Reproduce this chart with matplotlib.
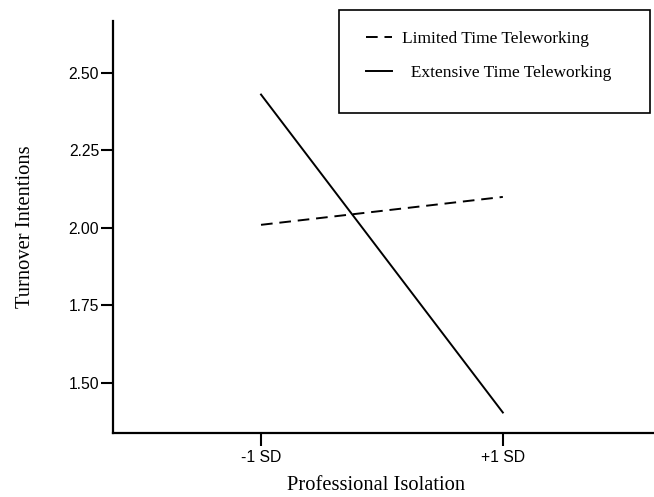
import matplotlib.pyplot as plt
from matplotlib.patches import Rectangle

# datos
niveles = ['-1 SD', '+1 SD']
pos_x = [1, 2]
limitado = [2.01, 2.10]
extensivo = [2.43, 1.405]
ticks_y = [1.50, 1.75, 2.00, 2.25, 2.50]

fig = plt.figure(figsize=(6.54, 4.97), dpi=100)
ax = fig.add_axes([0.1728, 0.1288, 0.8272, 0.8289])

ax.plot(pos_x, limitado, color='black', linewidth=1.4, linestyle=(0, (6, 3.5)),
        label='Limited Time Teleworking')
ax.plot(pos_x, extensivo, color='black', linewidth=1.4,
        label='  Extensive Time Teleworking')

ax.set_xlim(0.388, 2.625)
ax.set_ylim(1.339, 2.667)
ax.set_xticks(pos_x)
ax.set_xticklabels(niveles, fontfamily='Liberation Sans', fontsize=11.3)
ax.set_yticks(ticks_y)
ax.set_yticklabels(['%.2f' % v for v in ticks_y], fontfamily='Liberation Sans', fontsize=11.3)
ax.tick_params(axis='x', direction='out', length=9, width=1.5, pad=3)
ax.tick_params(axis='y', direction='out', length=9, width=1.5, pad=1)

for lado in ['top', 'right']:
    ax.spines[lado].set_visible(False)
for lado in ['left', 'bottom']:
    ax.spines[lado].set_linewidth(1.6)

# titulos de los ejes en posicion fija
fig.text(376 / 654, 1 - 485 / 497, 'Professional Isolation', fontfamily='Liberation Serif',
         fontsize=14.8, ha='center', va='center')
fig.text(26 / 654, 1 - 227 / 497, 'Turnover Intentions', fontfamily='Liberation Serif',
         fontsize=14.8, ha='center', va='center', rotation=90)

# caja de la leyenda
fig.patches.append(Rectangle((339 / 654, 1 - 113 / 497), 311 / 654, 103 / 497,
                             transform=fig.transFigure, fill=False,
                             edgecolor='black', linewidth=1.2))
fig.legend(loc='upper left', bbox_to_anchor=(357 / 654, 1 - 22 / 497), frameon=False,
           prop={'family': 'Liberation Serif', 'size': 12.5}, handlelength=1.5,
           handletextpad=0.6, labelspacing=1.05, borderpad=0)

plt.savefig('out.png', dpi=100)
plt.close()
